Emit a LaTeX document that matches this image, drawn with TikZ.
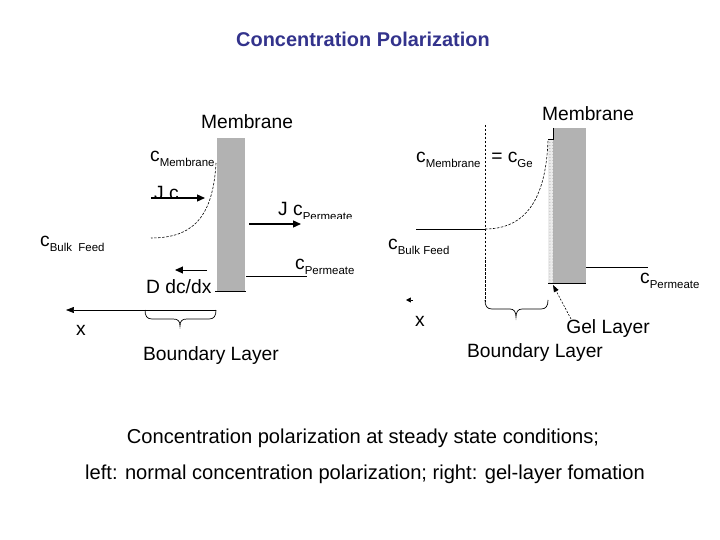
\documentclass[tikz,border=0pt]{standalone}
\usepackage{fontspec}
\setmainfont{Liberation Sans}
\usetikzlibrary{arrows.meta,patterns}
\definecolor{titleblue}{RGB}{51,51,140}
\definecolor{memgray}{RGB}{178,178,178}
\newcommand\csub[1]{c\raisebox{-4.5bp}{\fontsize{11.5}{12}\selectfont #1}}
\tikzset{
  lbl/.style={inner sep=0pt, font=\fontsize{19.3}{21}\selectfont},
  flux/.style={line width=1.3pt, -{Triangle[length=8pt,width=7pt]}},
  conc/.style={dashed, line width=0.6pt, dash pattern=on 2.5pt off 1.5pt},
  thin/.style={line width=0.7pt}
}
\begin{document}
\begin{tikzpicture}[x=1bp,y=-1bp]
\useasboundingbox (0,0) rectangle (720,540);
% title
\node[inner sep=0pt, anchor=base, font=\fontsize{20}{22}\selectfont\bfseries, text=titleblue] (title) at (363,47) {Concentration Polarization};

% ---------------- left panel ----------------
\node[lbl, anchor=base] (memL) at (247,129) {Membrane};
\fill[memgray] (217,138) rectangle (245,291);
\draw[thin] (215,291) -- (246,291);
\node[lbl, anchor=base west] (cmemL) at (150,162) {\csub{Membrane}};
\draw[conc] (216,163) .. controls (213,218) and (192,238) .. (151,238);
\begin{scope}
\clip (140,180) rectangle (212,197.5);
\node[lbl, anchor=base west] (JcL) at (154,199.5) {J c};
\end{scope}
\coordinate (jcA) at (151,198); \coordinate (jcB) at (205,198);
\draw[flux] (jcA) -- (jcB);
\begin{scope}
\clip (270,195) rectangle (370,219);
\node[lbl, anchor=base west] (JcpL) at (278,216) {J \csub{Permeate}};
\end{scope}
\coordinate (jpA) at (249,224); \coordinate (jpB) at (301,224);
\draw[flux] (jpA) -- (jpB);
\node[lbl, anchor=base west] (cbulkL) at (40,247) {\csub{Bulk\ \ Feed}};
\coordinate (dA) at (207,270); \coordinate (dB) at (175,270);
\draw[flux, line width=1pt] (dA) -- (dB);
\node[lbl, anchor=base west] (DdcL) at (146,293) {D dc/dx};
\node[lbl, anchor=base west] (cpermL) at (295,270) {\csub{Permeate}};
\coordinate (pL1) at (246,276); \coordinate (pL2) at (307,276);
\draw[thin] (pL1) -- (pL2);
\coordinate (xA) at (216,310); \coordinate (xB) at (66,310);
\draw[thin, -{Triangle[length=8pt,width=6pt]}] (xA) -- (xB);
\draw[thin] (145,310) .. controls (145,316) and (147,319) .. (152,319) -- (173,319)
  .. controls (178,319) and (180,321) .. (180,326) .. controls (180,321) and (182,319) .. (187,319)
  -- (209,319) .. controls (214,319) and (216,316) .. (216,310);
\node[lbl, anchor=base] (xL) at (81,335) {x};
\node[lbl, anchor=base] (blL) at (211,360) {Boundary Layer};

% ---------------- right panel ----------------
\node[lbl, anchor=base] (memR) at (588,121) {Membrane};
\fill[memgray] (553,128) rectangle (586,283);
\fill[gray!15] (548,139) rectangle (553,283);
\fill[pattern=dots, pattern color=gray!80] (548,139) rectangle (553,283);
\draw[thin] (553,128) -- (553,139) -- (548,139);
\draw[thin] (548,283) -- (586,283);
\node[lbl, anchor=base west] (cmemR) at (416,163) {\csub{Membrane}\ \ = \csub{Ge}};
\draw[conc] (485,125) -- (485,302);
\draw[thin] (485,300) .. controls (485,306) and (487,309) .. (492,309) -- (510,309)
  .. controls (514,309) and (516,312) .. (516,317) .. controls (516,312) and (518,309) .. (522,309)
  -- (541,309) .. controls (546,309) and (548,306) .. (548,300);
\coordinate (bR1) at (416,229); \coordinate (bR2) at (485,229);
\draw[thin] (bR1) -- (bR2);
\draw[conc] (bR2) .. controls (525,229) and (546,200) .. (548,140);
\node[lbl, anchor=base west] (cbulkR) at (388,250) {\csub{Bulk Feed}};
\coordinate (pR1) at (586,267); \coordinate (pR2) at (648,267);
\draw[thin] (pR1) -- (pR2);
\node[lbl, anchor=base west] (cpermR) at (640,284) {\csub{Permeate}};
\coordinate (xR1) at (413,300); \coordinate (xR2) at (406,300);
\draw[line width=0.5pt, -{Triangle[length=5pt,width=5pt]}] (xR1) -- (xR2);
\node[lbl, anchor=base] (xR) at (420,326) {x};
\node[lbl, anchor=base] (gel) at (608,333) {Gel Layer};
\coordinate (gA) at (571,319); \coordinate (gB) at (553,285);
\draw[line width=0.6pt, dash pattern=on 2pt off 1.5pt, -{Triangle[length=7pt,width=5pt]}] (gA) -- (gB);
\node[lbl, anchor=base] (blR) at (535,357) {Boundary Layer};

% ---------------- caption ----------------
\node[inner sep=0pt, anchor=base, font=\fontsize{20.2}{22}\selectfont] (cap1) at (363,443) {Concentration polarization at steady state conditions;};
\node[inner sep=0pt, anchor=base, font=\fontsize{20.2}{22}\selectfont] (cap2) at (365,479) {left: normal concentration polarization; right: gel-layer fomation};
\end{tikzpicture}
\end{document}
